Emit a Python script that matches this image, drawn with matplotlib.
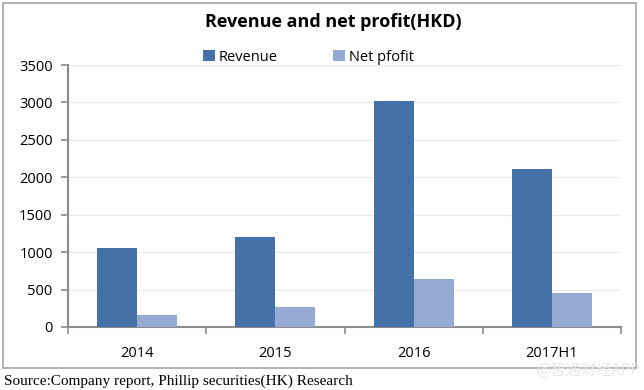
import numpy as np
import matplotlib.pyplot as plt
from matplotlib.patches import Rectangle

categories = ["2014", "2015", "2016", "2017H1"]
revenue = [1055, 1200, 3015, 2110]
net_profit = [160, 265, 640, 455]
yticks = [0, 500, 1000, 1500, 2000, 2500, 3000, 3500]

rev_color = "#4571A9"
np_color = "#95ABD4"
axis_gray = "#8C8C8C"

fig = plt.figure(figsize=(6.44, 3.90), dpi=100)
ax = fig.add_axes([68 / 644, 1 - 327 / 390, 553 / 644, 262 / 390])

#outer frame around the chart
fig.patches.append(Rectangle((3 / 644, 22 / 390), 633 / 644, 365 / 390,
                             transform=fig.transFigure, fill=False,
                             edgecolor="#A6A6A6", linewidth=1.2))

x = np.arange(len(categories))
w = 0.29
ax.bar(x - w / 2, revenue, w, color=rev_color, label="Revenue", zorder=3)
ax.bar(x + w / 2, net_profit, w, color=np_color, label="Net pfofit", zorder=3)

ax.set_xlim(-0.5, len(categories) - 0.5)
ax.set_ylim(0, 3500)
ax.set_yticks(yticks)
ax.yaxis.grid(True, color="#EBEBEB", linewidth=1, zorder=0)

ax.set_xticks(x)
ax.set_xticklabels(categories, fontsize=10.5, family="Open Sans")
ax.set_xticks(np.arange(len(categories) + 1) - 0.5, minor=True)
ax.tick_params(axis="x", which="major", length=0, pad=14)
ax.tick_params(axis="x", which="minor", length=5, color=axis_gray, width=1.2)
ax.tick_params(axis="y", length=5, color=axis_gray, width=1.2, labelsize=10.5, pad=6)
for lbl in ax.get_yticklabels():
    lbl.set_family("Open Sans")

for s in ["top", "right"]:
    ax.spines[s].set_visible(False)
for s in ["left", "bottom"]:
    ax.spines[s].set_color(axis_gray)
    ax.spines[s].set_linewidth(1.5)

fig.text(333 / 644, 1 - 22 / 390, "Revenue and net profit(HKD)", ha="center", va="center",
         fontsize=13, fontweight="bold", family="Open Sans")

ax.legend(loc="center", bbox_to_anchor=(0.435, 1.03), ncol=2, frameon=False,
          handlelength=0.8, handleheight=0.8, handletextpad=0.3, columnspacing=3.8,
          prop={"family": "Open Sans", "size": 10.5})

fig.text(4 / 644, 1 - 381 / 390, "Source:Company report, Phillip securities(HK) Research",
         ha="left", va="center", fontsize=11, family="Liberation Serif")

fig.text(640 / 644, 1 - 370 / 390, "@智通财经APP", ha="right", va="center",
         fontsize=11, color="#E8E8E8", family=["Noto Sans CJK SC", "DejaVu Sans"])

fig.savefig("out.png", dpi=100)
